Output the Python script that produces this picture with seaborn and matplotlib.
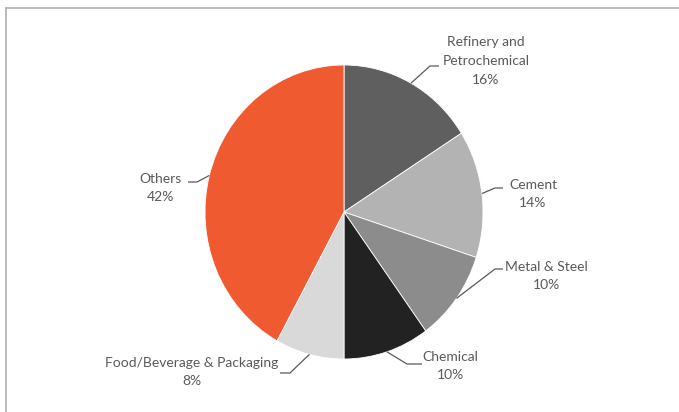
import numpy as np
import matplotlib
matplotlib.use("Agg")
import matplotlib.pyplot as plt
import seaborn as sns
from matplotlib.lines import Line2D

# ---- data ----
categories = ["Refinery and\nPetrochemical", "Cement", "Metal & Steel", "Chemical",
              "Food/Beverage & Packaging", "Others"]
shares = [16, 14, 10, 10, 8, 42]
colors = ["#5f5f5f", "#b3b3b3", "#8c8c8c", "#222222", "#d9d9d9", "#f05a30"]

sns.set_theme(style="white")
plt.rcParams["font.family"] = ["Lato", "DejaVu Sans"]

W, H = 679, 412
fig = plt.figure(figsize=(W / 100, H / 100), dpi=100)
fig.patch.set_facecolor("white")

# pie geometry in pixels (slightly stretched vertically like the reference)
cx, cy, rx, ry = 344, 212, 139, 147
ax = fig.add_axes([(cx - rx) / W, (H - cy - ry) / H, 2 * rx / W, 2 * ry / H])
wedges, _ = ax.pie(shares, colors=colors, startangle=90, counterclock=False,
                   wedgeprops=dict(edgecolor="white", linewidth=0.6))
ax.set_xlim(-1, 1)
ax.set_ylim(-1, 1)
ax.set_aspect("auto")
ax.axis("off")

def px2d(px, py):
    return (px - cx) / rx, (cy - py) / ry

# label styling: text center and elbow (pixel positions)
label_pos = [(486, 61), (533, 194), (546, 276), (450, 366), (192, 372), (160, 188)]
elbows = [((430, 66), (439, 66)), ((495, 188), (503, 188)), ((495, 269), (503, 269)),
          ((407, 364), (422, 364)), ((290, 373), (280, 373)), ((197, 182), (188, 182))]

txt_color = "#595959"
for w, cat, s, (tx, ty), (e1, e2) in zip(wedges, categories, shares, label_pos, elbows):
    mid = np.deg2rad((w.theta1 + w.theta2) / 2)
    x0, y0 = np.cos(mid), np.sin(mid)
    x1, y1 = px2d(*e1)
    x2, y2 = px2d(*e2)
    ax.plot([x0, x1, x2], [y0, y1, y2], color=txt_color, lw=0.9, clip_on=False,
            solid_capstyle="butt")
    lx, ly = px2d(tx, ty)
    ax.text(lx, ly, f"{cat}\n{s}%", ha="center", va="center", fontsize=10,
            color=txt_color, linespacing=1.65, clip_on=False)

# outer frame (top and left edges visible)
border = "#b5b5b5"
fig.add_artist(Line2D([6 / W, 1], [1 - 8 / H, 1 - 8 / H], color=border, lw=1.3,
                      transform=fig.transFigure))
fig.add_artist(Line2D([6 / W, 6 / W], [0, 1 - 8 / H], color=border, lw=1.3,
                      transform=fig.transFigure))

fig.savefig("out.png", dpi=100, facecolor="white")
